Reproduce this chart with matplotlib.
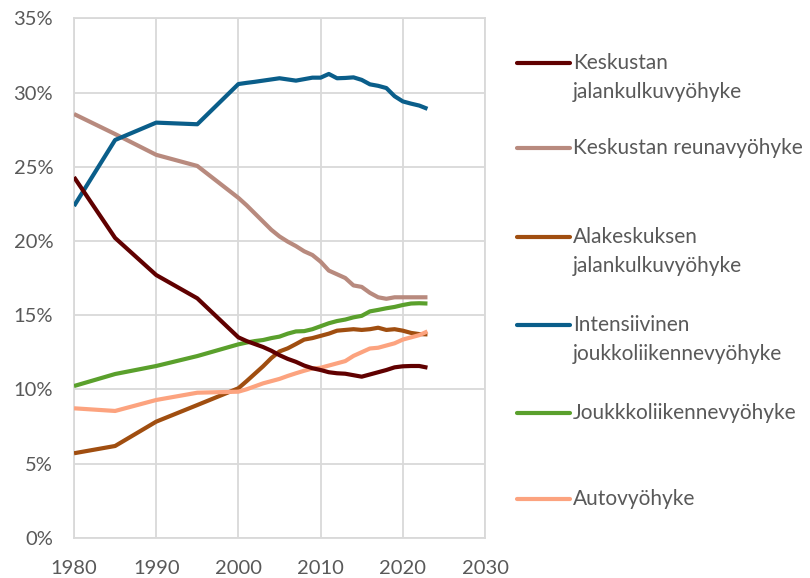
import matplotlib
matplotlib.use("Agg")
import matplotlib.pyplot as plt
from matplotlib.lines import Line2D
from matplotlib.ticker import FuncFormatter

plt.rcParams['font.family'] = ['Lato', 'DejaVu Sans']

years = [1980, 1985, 1990, 1995] + list(range(2000, 2024))

keskusta_jalankulku = [24.3, 20.2, 17.7, 16.13, 13.5, 13.25, 13.05, 12.85, 12.6, 12.3, 12.05,
                       11.85, 11.6, 11.42, 11.3, 11.15, 11.08, 11.05, 10.95, 10.85, 11.0, 11.15,
                       11.3, 11.48, 11.55, 11.57, 11.57, 11.46]
keskusta_reuna = [28.55, 27.2, 25.8, 25.05, 22.9, 22.4, 21.85, 21.3, 20.75, 20.3, 19.95, 19.65,
                  19.3, 19.05, 18.6, 18.0, 17.75, 17.5, 17.0, 16.9, 16.5, 16.2, 16.1, 16.2, 16.2,
                  16.2, 16.2, 16.2]
alakeskus = [5.69, 6.18, 7.82, 8.94, 10.07, 10.55, 11.05, 11.55, 12.1, 12.55, 12.76, 13.05,
             13.35, 13.45, 13.6, 13.75, 13.95, 14.0, 14.05, 14.0, 14.05, 14.15, 14.0, 14.05,
             13.95, 13.8, 13.72, 13.7]
intensiivinen = [22.35, 26.8, 27.97, 27.86, 30.57, 30.65, 30.72, 30.8, 30.88, 30.96, 30.88,
                 30.8, 30.9, 31.0, 31.0, 31.25, 30.96, 30.98, 31.02, 30.85, 30.55, 30.45,
                 30.3, 29.75, 29.4, 29.25, 29.12, 28.9]
joukkoliikenne = [10.22, 11.03, 11.57, 12.24, 13.03, 13.15, 13.25, 13.32, 13.45, 13.55, 13.75,
                  13.9, 13.92, 14.05, 14.25, 14.45, 14.6, 14.7, 14.85, 14.95, 15.25, 15.35,
                  15.46, 15.55, 15.68, 15.78, 15.8, 15.78]
auto = [8.72, 8.54, 9.28, 9.77, 9.84, 10.0, 10.2, 10.4, 10.55, 10.7, 10.9, 11.08, 11.25, 11.4,
        11.45, 11.6, 11.75, 11.9, 12.25, 12.5, 12.75, 12.8, 12.95, 13.1, 13.35, 13.5, 13.65, 13.9]

labels = ["Keskustan\njalankulkuvyöhyke", "Keskustan reunavyöhyke",
          "Alakeskuksen\njalankulkuvyöhyke", "Intensiivinen\njoukkoliikennevyöhyke",
          "Joukkkoliikennevyöhyke", "Autovyöhyke"]
series = [keskusta_jalankulku, keskusta_reuna, alakeskus, intensiivinen, joukkoliikenne, auto]
colors = ["#600000", "#b88a7e", "#a04e10", "#0a5e8a", "#5aa02c", "#fca37f"]

x_ticks = [1980, 1990, 2000, 2010, 2020, 2030]
y_ticks = [0, 5, 10, 15, 20, 25, 30, 35]

W, H = 810, 578
fig = plt.figure(figsize=(W / 100, H / 100), dpi=100)
ax = fig.add_axes([74 / W, (H - 537.7) / H, (485 - 74) / W, (537.7 - 18.3) / H])

order = [1, 3, 4, 2, 5, 0]
for i in order:
    ax.plot(years, series[i], color=colors[i], lw=3.0, solid_capstyle='butt', zorder=3)

ax.set_xlim(1980, 2030)
ax.set_ylim(0, 35)
ax.set_xticks(x_ticks)
ax.set_yticks(y_ticks)
ax.yaxis.set_major_formatter(FuncFormatter(lambda v, p: f"{v:.0f}%"))
ax.grid(True, color="#d9d9d9", lw=1.3, zorder=0)
ax.set_axisbelow(True)
for s in ax.spines.values():
    s.set_color("#d9d9d9")
    s.set_linewidth(1.3)
ax.tick_params(length=0, labelsize=14.5, colors="#595959")
ax.tick_params(axis='x', pad=16)
ax.tick_params(axis='y', pad=15)

# legend drawn manually
leg_y = [63, 148, 237, 325, 413, 499]
for lab, col, yy in zip(labels, colors, leg_y):
    fy = (H - yy) / H
    fig.add_artist(Line2D([517 / W, 570 / W], [fy, fy], color=col, lw=3.0,
                          solid_capstyle='round', transform=fig.transFigure))
    for k, t in enumerate(lab.split("\n")):
        fig.text(573 / W, (H - (yy + k * 29)) / H, t, color="#595959", fontsize=15,
                 va='center', ha='left')

fig.savefig("out.png", dpi=100)
